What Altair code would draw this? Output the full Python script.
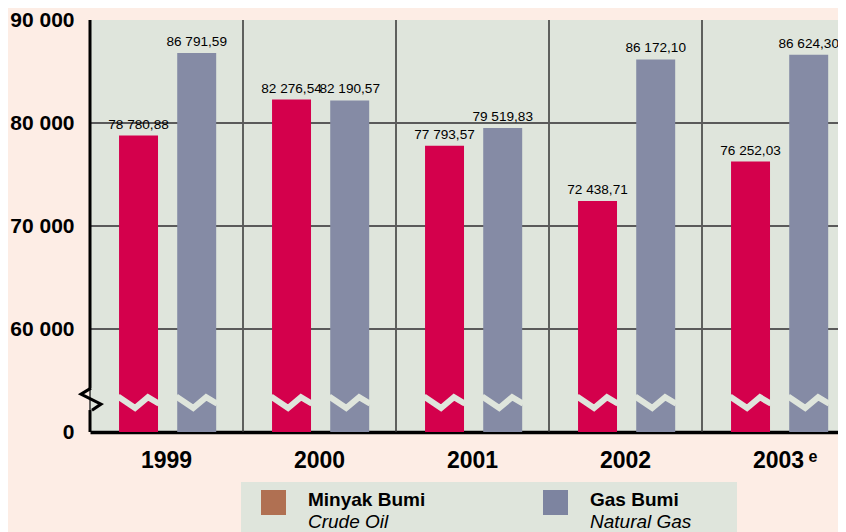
import altair as alt
import pandas as pd

years = ["1999", "2000", "2001", "2002", "2003"]
crude_oil = [78780.88, 82276.54, 77793.57, 72438.71, 76252.03]
natural_gas = [86791.59, 82190.57, 79519.83, 86172.10, 86624.30]
series_names = ["Minyak Bumi", "Gas Bumi"]
series_sub = ["Crude Oil", "Natural Gas"]
bar_colors = ["#d4004c", "#858ba5"]
legend_colors = ["#b07052", "#7d84a0"]
y_ticks = [50000, 60000, 70000, 80000, 90000]
grid_values = [60000, 70000, 80000]

PLOT_BG = "#dfe5dc"
PAGE_BG = "#fdede5"
BASE = 50000
BREAK_Y = 52900

rows = []
for i, yr in enumerate(years):
    for s, vals in zip(series_names, [crude_oil, natural_gas]):
        v = vals[i]
        label = f"{v:,.2f}".replace(",", " ").replace(".", ",")
        rows.append({"year": yr, "series": s, "value": v, "base": BASE,
                     "brk": BREAK_Y, "label": label})
df = pd.DataFrame(rows)

W, H = 765, 412
x_scale = alt.Scale(domain=years, paddingInner=0, paddingOuter=0)
y_scale = alt.Scale(domain=[BASE, 90000], nice=False, zero=False)
off_scale = alt.Scale(domain=series_names, paddingInner=0.33, paddingOuter=0.48,
                      align=0.52)
color_scale = alt.Scale(domain=series_names, range=bar_colors)

x_axis = alt.Axis(title=None, labelFont="Liberation Sans", labelFontSize=23,
                  labelFontWeight="bold", labelColor="black",
                  labelPadding=17, ticks=False, grid=False,
                  domain=True, domainColor="black", domainWidth=3.5,
                  labelAngle=0)
y_axis = alt.Axis(title=None, values=y_ticks, grid=False, ticks=False,
                  domain=False, labelFont="Liberation Sans",
                  labelFontSize=21, labelFontWeight="bold",
                  labelColor="black", labelPadding=16,
                  labelExpr="datum.value == 50000 ? '0' : replace(format(datum.value, ','), ',', ' ')")

X = lambda: alt.X("year:N", scale=x_scale, sort=years, axis=x_axis)

# gridlines
vgrid = alt.Chart(pd.DataFrame({"year": years})).mark_rule(
    color="#333333", strokeWidth=1.5).encode(
    x=alt.X("year:N", scale=x_scale, sort=years, axis=x_axis, bandPosition=0),
    y=alt.value(0), y2=alt.value(H))
hgrid = alt.Chart(pd.DataFrame({"g": grid_values})).mark_rule(
    color="#5a5a5a", strokeWidth=2).encode(
    y=alt.Y("g:Q", scale=y_scale, axis=y_axis), x=alt.value(0), x2=alt.value(W))

base = alt.Chart(df)

bars = base.mark_bar().encode(
    x=X(),
    xOffset=alt.XOffset("series:N", scale=off_scale, sort=series_names),
    y=alt.Y("value:Q", scale=y_scale, axis=y_axis),
    y2="base:Q",
    color=alt.Color("series:N", scale=color_scale, legend=None),
)

labels = base.mark_text(baseline="bottom", dy=-4, font="Liberation Sans",
                        fontSize=13.6, color="black").encode(
    x=X(),
    xOffset=alt.XOffset("series:N", scale=off_scale, sort=series_names),
    y=alt.Y("value:Q", scale=y_scale, axis=y_axis),
    text="label:N",
)

zigzag = base.mark_point(
    shape="M -1 -0.27 L -0.17 0.29 L 0.46 -0.24 L 1 0.08",
    filled=False, stroke=PLOT_BG, strokeWidth=6, size=1681, opacity=1,
    strokeJoin="miter",
).encode(
    x=X(),
    xOffset=alt.XOffset("series:N", scale=off_scale, sort=series_names),
    y=alt.Y("brk:Q", scale=y_scale, axis=y_axis),
)

# Hand-drawn left axis line with a break
axis_df = pd.DataFrame({"y": [90000, 52130], "y2": [54250, BASE]})
axis_rules = alt.Chart(axis_df).mark_rule(color="black", strokeWidth=3).encode(
    x=alt.value(0), y=alt.Y("y:Q", scale=y_scale, axis=y_axis), y2="y2:Q")
axis_break = alt.Chart(pd.DataFrame({"y": [53190]})).mark_point(
    shape="M 0.09 -1 L -0.82 -0.45 L 1 0.45 L 0.18 1",
    filled=False, stroke="black", strokeWidth=3, size=484, opacity=1,
    strokeJoin="miter",
).encode(x=alt.value(0), y=alt.Y("y:Q", scale=y_scale, axis=y_axis))

# superscript "e" for 2003
sup = alt.Chart(pd.DataFrame({"year": ["2003"], "t": ["e"]})).mark_text(
    font="Liberation Sans", fontSize=16, fontWeight="bold", color="black",
    align="left", baseline="middle", dx=30,
).encode(x=X(), y=alt.value(H + 25), text="t:N")

# Manual legend
leg_bg = alt.Chart(pd.DataFrame({"a": [0]})).mark_rect(color=PLOT_BG).encode(
    x=alt.value(151), x2=alt.value(647), y=alt.value(H + 50), y2=alt.value(H + 110))
leg_layers = [leg_bg]
leg_x = [171, 453]
for i in range(2):
    d = pd.DataFrame({"name": [series_names[i]], "sub": [series_sub[i]]})
    leg_layers.append(alt.Chart(d).mark_rect(color=legend_colors[i]).encode(
        x=alt.value(leg_x[i]), x2=alt.value(leg_x[i] + 25),
        y=alt.value(H + 58), y2=alt.value(H + 83)))
    leg_layers.append(alt.Chart(d).mark_text(
        font="Liberation Sans", fontSize=19, fontWeight="bold", color="black",
        align="left", baseline="middle").encode(
        x=alt.value(leg_x[i] + 47), y=alt.value(H + 68), text="name:N"))
    leg_layers.append(alt.Chart(d).mark_text(
        font="Liberation Sans", fontSize=19, fontStyle="italic", color="black",
        align="left", baseline="middle").encode(
        x=alt.value(leg_x[i] + 47), y=alt.value(H + 90), text="sub:N"))

chart = alt.layer(
    vgrid, hgrid, bars, zigzag, labels, axis_rules, axis_break, sup, *leg_layers
).properties(
    width=W, height=H,
    background=PAGE_BG,
    padding={"left": 82, "top": 12, "right": -17, "bottom": 100},
    autosize=alt.AutoSizeParams(type="none"),
).configure_view(fill=PLOT_BG, stroke=None)

chart.save("out.html", embed_options={"renderer": "svg", "actions": False})
